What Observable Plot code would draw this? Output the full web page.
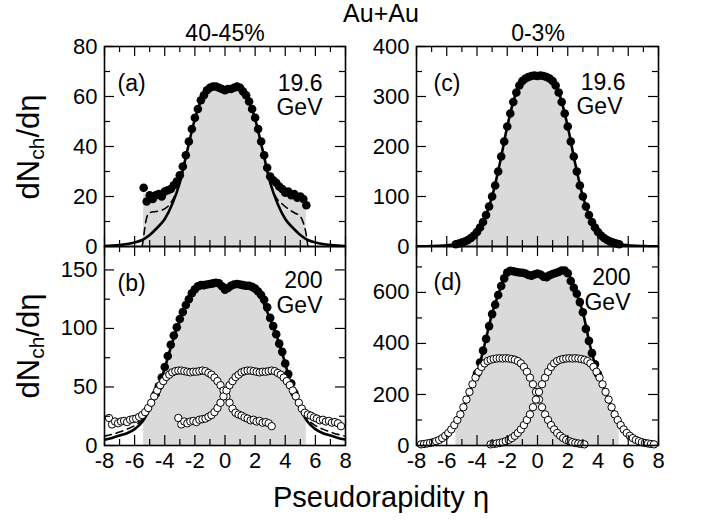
<!DOCTYPE html>
<html><head><meta charset="utf-8">
<script src="https://cdn.jsdelivr.net/npm/d3@7"></script>
<script src="https://cdn.jsdelivr.net/npm/@observablehq/plot@0.6"></script>
<style>
body{margin:0;background:#fff;font-family:"Liberation Sans",Arial,sans-serif;}
#root{position:relative;width:704px;height:521px;overflow:hidden;background:#fff;}
.lbl{position:absolute;white-space:nowrap;color:#000;line-height:1;transform:translate(-50%,-50%);}
.rot{transform:translate(-50%,-50%) rotate(-90deg);}
sub{font-size:0.68em;vertical-align:-0.28em;}
</style></head><body><div id="root"></div>
<script>
// ---------- data ----------
const etaGrid = [-5.4,-5.2,-5.0,-4.8,-4.6,-4.4,-4.2,-4.0,-3.8,-3.6,-3.4,-3.2,-3.0,-2.8,-2.6,-2.4,-2.2,-2.0,-1.8,-1.6,-1.4,-1.2,-1.0,-0.8,-0.6,-0.4,-0.2,0,0.2,0.4,0.6,0.8,1.0,1.2,1.4,1.6,1.8,2.0,2.2,2.4,2.6,2.8,3.0,3.2,3.4,3.6,3.8,4.0,4.2,4.4,4.6,4.8,5.0,5.2,5.4];
// (a) 19.6 GeV, 40-45%
const dN19_40 = [23.5,18.0,20.5,19.0,20.5,21.0,20.0,22.0,22.5,23.0,24.5,26.0,28.5,32.0,36.5,42.0,47.0,51.5,55.0,58.5,60.5,62.5,63.5,64.0,64.0,63.5,63.0,62.5,63.0,63.0,63.5,64.0,63.5,62.0,60.5,58.0,55.0,51.5,47.0,42.0,36.5,31.5,28.0,26.5,25.5,24.0,23.0,21.5,22.0,20.5,21.0,19.5,20.0,19.0,16.5];
// (b) 200 GeV, 40-45%
const dN200_40 = [26,29.5,33.5,38.5,44,50.5,58,67,76.5,86,94,101,108,114,120,125,130,133.5,136,137,137,137.5,138,138.5,139,138.5,136,133,134.5,136.5,137.5,138,137.5,137,136.5,136.5,135.5,134,131.5,128.5,124.5,118,109,102,95,87,80,70,61,53,45,39,34,30,27];
// (c) 19.6 GeV, 0-3%
const dN19_0 = [4.5,6,8,10,13,17,22,29,38,49,63,80,100,122,150,180,210,240,266,289,308,322,331,336,339,341,342,341,342,341,339,336,331,322,308,289,266,240,210,180,150,122,100,80,63,49,38,29,22,17,13,10,8,6,4.5];
// (d) 200 GeV, 0-3%
const dN200_0 = [90,111,136,165,195,225,253,282,325,372,418,468,515,552,590,625,655,678,685,683,680,678,677,674,668,666,670,674,670,662,660,667,672,676,680,686,686,675,645,618,595,562,522,457,410,362,318,280,253,225,195,165,136,111,90];

// open circles (19.6 GeV data displaced in eta) in (b) and (d)
const etaOpenL = [-7.7,-7.5,-7.3,-7.1,-6.9,-6.7,-6.5,-6.3,-6.1,-5.9,-5.7,-5.5,-5.3,-5.1,-4.9,-4.7,-4.5,-4.3,-4.1,-3.9,-3.7,-3.5,-3.3,-3.1,-2.9,-2.7,-2.5,-2.3,-2.1,-1.9,-1.7,-1.5,-1.3,-1.1,-0.9,-0.7,-0.5,-0.3,-0.1,0.1,0.3,0.5,0.7,0.9,1.1,1.3,1.5,1.7,1.9,2.1,2.3,2.5,2.7,2.9,3.1];
const etaOpenR = [-3.1,-2.9,-2.7,-2.5,-2.3,-2.1,-1.9,-1.7,-1.5,-1.3,-1.1,-0.9,-0.7,-0.5,-0.3,-0.1,0.1,0.3,0.5,0.7,0.9,1.1,1.3,1.5,1.7,1.9,2.1,2.3,2.5,2.7,2.9,3.1,3.3,3.5,3.7,3.9,4.1,4.3,4.5,4.7,4.9,5.1,5.3,5.5,5.7,5.9,6.1,6.3,6.5,6.7,6.9,7.1,7.3,7.5,7.7];
const openB = [23.5,18.0,20.5,19.0,20.5,21.0,20.0,22.0,22.5,23.0,24.5,26.0,28.5,32.0,36.5,42.0,47.0,51.5,55.0,58.5,60.5,62.5,63.5,64.0,64.0,63.5,63.0,62.5,63.0,63.0,63.5,64.0,63.5,62.0,60.5,58.0,55.0,51.5,47.0,42.0,36.5,31.5,28.0,26.5,25.5,24.0,23.0,21.5,22.0,20.5,21.0,19.5,20.0,19.0,16.5];
const openD = [4.5,6,8,10,13,17,22,29,38,49,63,80,100,122,150,180,210,240,266,289,308,322,331,336,339,341,342,341,342,341,339,336,331,322,308,289,266,240,210,180,150,122,100,80,63,49,38,29,22,17,13,10,8,6,4.5];

// solid fit curves
const fitEta = [-8,-7.5,-7,-6.5,-6,-5.5,-5,-4.5,-4,-3.5,-3,-2.5,-2,-1.5,-1,-0.5,0,0.5,1,1.5,2,2.5,3,3.5,4,4.5,5,5.5,6,6.5,7,7.5,8];
const fit19_40 = [0.2,0.35,0.6,1.0,1.6,2.6,4.6,7.5,11,17,25.5,38.5,51,59.5,63,63.3,62.8,63.3,63,59.5,51,38.5,25.5,17,11,7.5,4.6,2.6,1.6,1.0,0.6,0.35,0.2];
const fit200_40 = [5,6.5,8.5,10.5,14,20,31,46,66,88,107,122,132,135.5,137.5,138,134.5,137.5,137.5,135.5,133,123,108,91,70,46,31,20,14,10.5,8.5,6.5,5];
const fit19_0 = [0.3,0.5,1.0,1.6,2.5,4,8,15,29,56,100,165,240,300,331,340,342,340,331,300,240,165,100,56,29,15,8,4,2.5,1.6,1.0,0.5,0.3];
const fit200_0 = [4,7,12,24,45,80,136,210,280,395,518,608,678,682,677,668,672,662,672,684,676,606,522,385,280,210,136,80,45,24,12,7,4];

// dashed curves
const dashEtaA = [-5.5,-5.4,-5.3,-5.2,-5.0,-4.6,-4.2,-3.8,-3.4,-3.0,-2.5,-2,-1.5,-1,-0.5,0,0.5,1,1.5,2,2.5,3.0,3.4,3.8,4.2,4.6,5.0,5.2,5.4,5.5];
const dash19_40 = [0,4,8.5,11.5,13.5,14,14.5,16,19.5,25.5,38.5,51,59.5,63,63.3,62.8,63.3,63,59.5,51,38.5,25.5,19.5,17,15,13.5,12,9.5,4.5,0];
const dashEtaBL = [-8,-7.5,-7,-6.5,-6,-5.5,-5,-4.5];
const dash200_40L = [8,9.5,11.5,14,17,22,31,46];
const dashEtaBR = [4.5,5,5.5,6,6.5,7,7.5,8];
const dash200_40R = [46,31,22,17,14,11.5,9.5,8];

// axes
const xMajor = [-8,-6,-4,-2,0,2,4,6,8];
const xMinor = [-7,-5,-3,-1,1,3,5,7];
const yMajA = [0,20,40,60,80], yMinA = [10,30,50,70];
const yMajB = [0,50,100,150], yMinB = [25,75,125];
const yMajC = [0,100,200,300,400], yMinC = [50,150,250,350];
const yMajD = [0,200,400,600], yMinD = [100,300,500,700];

const rows = (e, v) => e.map((x, i) => ({eta: x, v: v[i]}));
const root = document.getElementById("root");
const FONT = '"Liberation Sans", Arial, sans-serif';

function panel(o) {
  const mL = 56, mR = 12, mT = 14, mB = o.showX ? 40 : 14;
  const marks = [];
  marks.push(Plot.areaY(o.area, {x: "eta", y: "v", fill: "#dadada", curve: "linear"}));
  (o.dashed || []).forEach(d => marks.push(Plot.line(d, {x: "eta", y: "v", stroke: "#000", strokeWidth: 1.6, strokeDasharray: "7,5", curve: "monotone-x", clip: true})));
  marks.push(Plot.line(o.fit, {x: "eta", y: "v", stroke: "#000", strokeWidth: 2.6, curve: "monotone-x", clip: true}));
  marks.push(Plot.dot(o.dots, {x: "eta", y: "v", r: 4.3, fill: "#000", filter: d => Math.abs(d.eta) <= o.dotMax + 1e-9}));
  (o.opens || []).forEach(d => marks.push(Plot.dot(d, {x: "eta", y: "v", r: 3.7, fill: "#fff", stroke: "#000", strokeWidth: 1})));
  const TL = 10, TS = 6;
  marks.push(Plot.tickX(xMajor, {x: d => d, insetTop: o.h - TL, strokeWidth: 1.2}));
  marks.push(Plot.tickX(xMinor, {x: d => d, insetTop: o.h - TS, strokeWidth: 1.2}));
  marks.push(Plot.tickX(xMajor, {x: d => d, insetBottom: o.h - TL, strokeWidth: 1.2}));
  marks.push(Plot.tickX(xMinor, {x: d => d, insetBottom: o.h - TS, strokeWidth: 1.2}));
  marks.push(Plot.tickY(o.yMaj, {y: d => d, insetRight: o.w - TL, strokeWidth: 1.2}));
  marks.push(Plot.tickY(o.yMin, {y: d => d, insetRight: o.w - TS, strokeWidth: 1.2}));
  marks.push(Plot.tickY(o.yMaj, {y: d => d, insetLeft: o.w - TL, strokeWidth: 1.2}));
  marks.push(Plot.tickY(o.yMin, {y: d => d, insetLeft: o.w - TS, strokeWidth: 1.2}));
  marks.push(Plot.frame({stroke: "#000", strokeWidth: 1.6}));
  o.texts.forEach(t => marks.push(Plot.text([t.s], {
    frameAnchor: t.anchor, dx: t.dx, dy: t.dy, textAnchor: t.ta, lineAnchor: "middle",
    fontSize: 23, fill: "#000"
  })));
  const svg = Plot.plot({
    width: o.w + mL + mR, height: o.h + mT + mB,
    marginLeft: mL, marginRight: mR, marginTop: mT, marginBottom: mB,
    style: {background: "transparent", fontFamily: FONT, fontSize: "22px", color: "#000", overflow: "visible"},
    x: o.showX
      ? {domain: [-8, 8], ticks: xMajor, tickSize: 0, tickPadding: 7, tickFormat: d => String(d), label: null}
      : {domain: [-8, 8], axis: null},
    y: {domain: o.ydom, ticks: o.yMaj, tickSize: 0, tickPadding: 7, tickFormat: d => String(d), label: null},
    marks
  });
  svg.style.position = "absolute";
  svg.style.left = (o.left - mL) + "px";
  svg.style.top = (o.top - mT) + "px";
  svg.style.maxWidth = "none";
  root.appendChild(svg);
}

panel({left: 104, top: 46, w: 241, h: 200, ydom: [0, 80], yMaj: yMajA, yMin: yMinA, showX: false,
  area: rows(etaGrid, dN19_40), dots: rows(etaGrid, dN19_40), dotMax: 5.4,
  fit: rows(fitEta, fit19_40), dashed: [rows(dashEtaA, dash19_40)],
  texts: [{s: "(a)", anchor: "top-left", dx: 13, dy: 37, ta: "start"},
          {s: "19.6", anchor: "top-right", dx: -23, dy: 37, ta: "end"},
          {s: "GeV", anchor: "top-right", dx: -23, dy: 61, ta: "end"}]});
panel({left: 104, top: 246, w: 241, h: 199, ydom: [0, 170], yMaj: yMajB, yMin: yMinB, showX: true,
  area: rows(etaGrid, dN200_40), dots: rows(etaGrid, dN200_40), dotMax: 4.6,
  fit: rows(fitEta, fit200_40), dashed: [rows(dashEtaBL, dash200_40L), rows(dashEtaBR, dash200_40R)],
  opens: [rows(etaOpenL, openB), rows(etaOpenR, openB)],
  texts: [{s: "(b)", anchor: "top-left", dx: 13, dy: 37, ta: "start"},
          {s: "200", anchor: "top-right", dx: -23, dy: 34, ta: "end"},
          {s: "GeV", anchor: "top-right", dx: -23, dy: 59, ta: "end"}]});
panel({left: 416, top: 46, w: 242, h: 200, ydom: [0, 400], yMaj: yMajC, yMin: yMinC, showX: false,
  area: rows(etaGrid, dN19_0), dots: rows(etaGrid, dN19_0), dotMax: 5.4,
  fit: rows(fitEta, fit19_0),
  texts: [{s: "(c)", anchor: "top-left", dx: 17, dy: 37, ta: "start"},
          {s: "19.6", anchor: "top-right", dx: -33, dy: 36, ta: "end"},
          {s: "GeV", anchor: "top-right", dx: -36, dy: 60, ta: "end"}]});
panel({left: 416, top: 246, w: 242, h: 199, ydom: [0, 780], yMaj: yMajD, yMin: yMinD, showX: true,
  area: rows(etaGrid, dN200_0), dots: rows(etaGrid, dN200_0), dotMax: 4.0,
  fit: rows(fitEta, fit200_0),
  opens: [rows(etaOpenL, openD), rows(etaOpenR, openD)],
  texts: [{s: "(d)", anchor: "top-left", dx: 17, dy: 36, ta: "start"},
          {s: "200", anchor: "top-right", dx: -28, dy: 31, ta: "end"},
          {s: "GeV", anchor: "top-right", dx: -28, dy: 56, ta: "end"}]});

function label(html, x, y, size, cls) {
  const d = document.createElement("div");
  d.className = "lbl" + (cls ? " " + cls : "");
  d.style.left = x + "px"; d.style.top = y + "px"; d.style.fontSize = size + "px";
  d.innerHTML = html;
  root.appendChild(d);
}
label("Au+Au", 381, 13, 25);
label("40-45%", 225, 33, 23);
label("0-3%", 538, 33, 23);
label("dN<sub>ch</sub>/dη", 30, 147, 31, "rot");
label("dN<sub>ch</sub>/dη", 30, 346, 31, "rot");
label("Pseudorapidity η", 381, 497, 29);
</script></body></html>
